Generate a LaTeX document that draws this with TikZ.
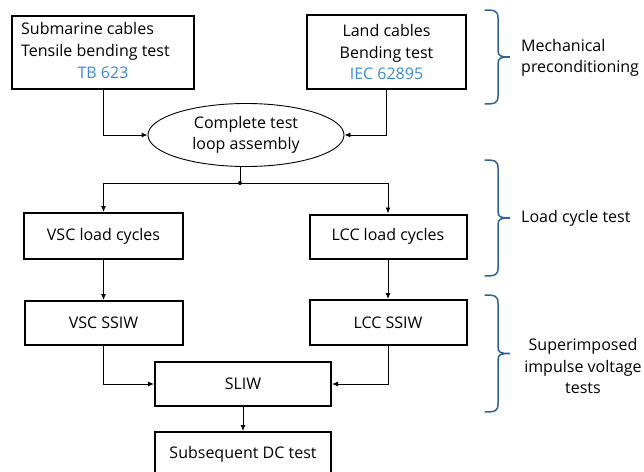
\documentclass[tikz,border=0pt]{standalone}
\usepackage{fontspec}
\setmainfont{Open Sans}
\usetikzlibrary{arrows.meta,shapes.geometric,calc}
\definecolor{linkblue}{HTML}{3C8AD8}
\definecolor{bracecol}{HTML}{2D6496}
\tikzset{
  txt/.style={font=\fontsize{16}{21.5}\selectfont, inner sep=0},
  box/.style={draw, line width=2, rectangle, inner sep=0, txt, align=center},
  conn/.style={line width=0.9, -{Latex[length=6,width=5]}},
  plain/.style={line width=0.9},
  brc/.style={draw=bracecol, line width=1.5, line cap=round},
}
% right-pointing curly brace: ends at x=#1, spine at #1+13, tip at #1+25, from y=#2 to y=#3
\newcommand{\stagebrace}[3]{%
  \pgfmathsetmacro{\bx}{#1+13}%
  \pgfmathsetmacro{\bt}{#1+25}%
  \pgfmathsetmacro{\bm}{(#2+#3)/2}%
  \draw[brc] (#1,#2) .. controls (\bx-3,#2) and (\bx,#2+1) .. (\bx,#2+8)
    -- (\bx,\bm-7) .. controls (\bx,\bm-1) and (\bx+2,\bm) .. (\bt,\bm)
    .. controls (\bx+2,\bm) and (\bx,\bm+1) .. (\bx,\bm+7)
    -- (\bx,#3-8) .. controls (\bx,#3-1) and (\bx-3,#3) .. (#1,#3);%
}
\begin{document}
\begin{tikzpicture}[x=1pt,y=-1pt]
\useasboundingbox (0,0) rectangle (644,471);
\clip (0,0) rectangle (644,471);

% mechanical preconditioning
\node[box, minimum width=182, minimum height=73] (sub) at (103,52) {};
\node[txt, anchor=west, align=left] (subtxt) at (21,41.5) {Submarine cables\\Tensile bending test};
\node[txt, text=linkblue] (subref) at (103,73) {TB 623};
\node[box, minimum width=159, minimum height=74] (land) at (386.5,52)
  {Land cables\\Bending test\\\textcolor{linkblue}{IEC 62895}};

% assembly
\node[draw, ellipse, line width=0.9, minimum width=196, minimum height=63, txt, align=center]
  (loop) at (246,135) {Complete test\\loop assembly};
\coordinate (split) at (240,183);

% load cycles and impulse tests
\node[box, minimum width=159, minimum height=46] (vscl) at (103.5,236) {VSC load cycles};
\node[box, minimum width=157, minimum height=44] (lccl) at (388,236.5) {LCC load cycles};
\node[box, minimum width=158, minimum height=44] (vscs) at (103.5,323) {VSC SSIW};
\node[box, minimum width=157, minimum height=45] (lccs) at (388,322.5) {LCC SSIW};
\node[box, minimum width=176, minimum height=44] (sliw) at (243,384) {SLIW};
\node[box, minimum width=176, minimum height=44] (dc) at (243,454) {Subsequent DC test};

% connectors
\draw[conn] (sub.south) |- (loop.west);
\draw[conn] (land.south) |- (loop.east);
\draw[plain] (loop.south -| split) -- (split);
\fill (split) circle (2);
\draw[conn] (split) -| (vscl.north);
\draw[conn] (split) -| (lccl.north);
\draw[conn] (vscl) -- (vscs);
\draw[conn] (lccl) -- (lccs);
\draw[conn] (vscs.south) |- (sliw.west);
\draw[conn] (lccs.south) |- (sliw.east);
\draw[conn] (sliw) -- (dc);

% stage braces and labels
\stagebrace{485}{10}{104}
\stagebrace{485}{160}{276}
\stagebrace{485}{295}{412}
\node[txt, anchor=west, align=left] (mech) at (521,58) {Mechanical\\preconditioning};
\node[txt, anchor=west] (lct) at (521,218) {Load cycle test};
\node[txt, align=center] (sit) at (583,366) {Superimposed\\impulse voltage\\tests};
\end{tikzpicture}
\end{document}
